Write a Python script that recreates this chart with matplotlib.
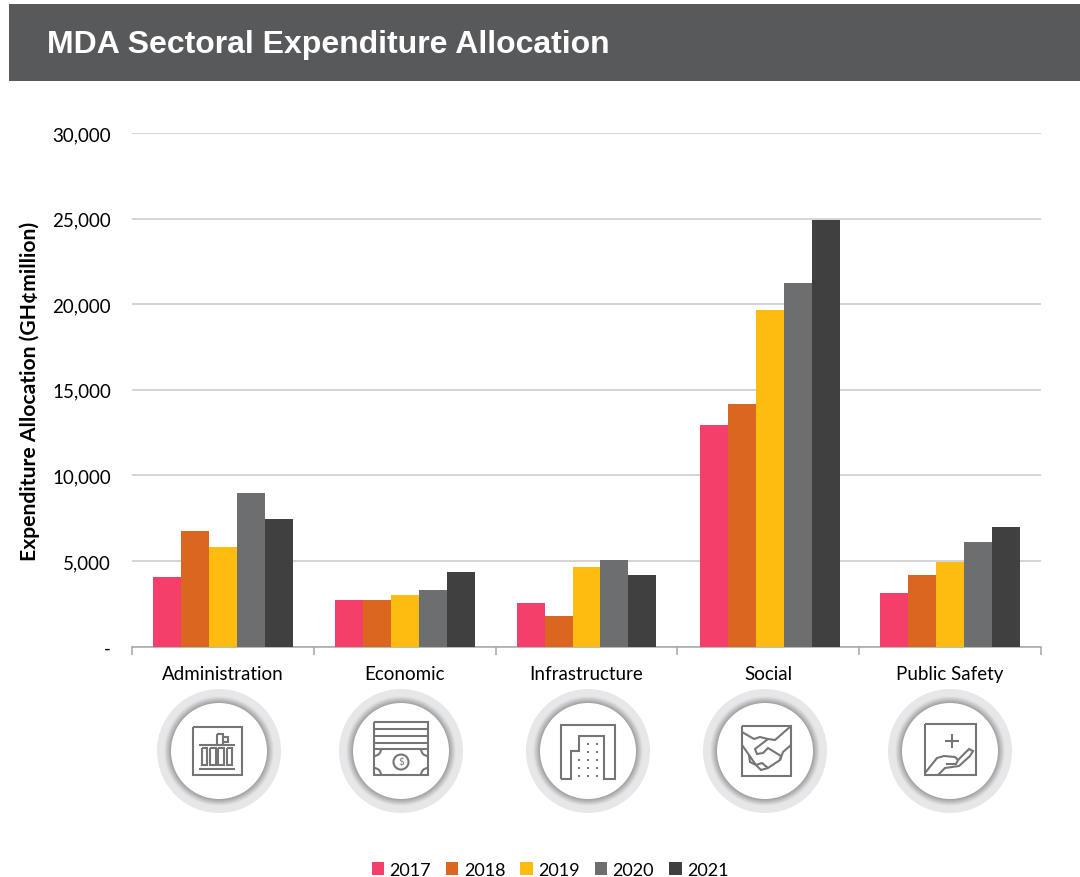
#Numeric Numpy library
import numpy as np
#Library to plot the chart
import matplotlib
matplotlib.use("Agg")
import matplotlib.pyplot as plt
from matplotlib.patches import Circle, Rectangle, Arc

plt.rcParams['font.family'] = ['Lato', 'DejaVu Sans']

#Chart data
categories = ["Administration", "Economic", "Infrastructure", "Social", "Public Safety"]
years = ["2017", "2018", "2019", "2020", "2021"]
values_2017 = [4050, 2700, 2550, 12950, 3150]
values_2018 = [6750, 2700, 1800, 14150, 4200]
values_2019 = [5800, 3000, 4650, 19650, 4950]
values_2020 = [8950, 3300, 5050, 21250, 6100]
values_2021 = [7450, 4350, 4200, 24900, 7000]
yticks = [0, 5000, 10000, 15000, 20000, 25000, 30000]
ytick_labels = ["-", "5,000", "10,000", "15,000", "20,000", "25,000", "30,000"]
title = "MDA Sectoral Expenditure Allocation"
ylabel = "Expenditure Allocation (GH¢million)"

series = [values_2017, values_2018, values_2019, values_2020, values_2021]
colors = ["#F43F6B", "#DB661F", "#FFBC10", "#6D6E70", "#404040"]

W, H = 1080, 878
ICON = "#757575"

fig = plt.figure(figsize=(W / 100, H / 100), dpi=100)

#Axes placed in pixel positions of the picture
ax = fig.add_axes([132 / W, 1 - 647.5 / H, 909 / W, 513.5 / H])
bar_w = 0.154
x = np.arange(len(categories))
#the Social group sits a little right of its label in the original
group_x = x + np.array([0, 0, 0, 0.011, 0])
for i, vals in enumerate(series):
    ax.bar(group_x + (i - 2) * bar_w, vals, bar_w, color=colors[i], label=years[i], zorder=3)

ax.set_xlim(-0.5, 4.5)
ax.set_ylim(0, 30000)
ax.set_yticks(yticks)
ax.set_yticklabels(ytick_labels, fontsize=13.5, color="#000000")
ax.tick_params(axis='y', length=0, pad=15)
ax.yaxis.grid(True, color="#c9c9c9", linewidth=1.1, zorder=0)
ax.set_axisbelow(True)

#Category labels centred, ticks on the category borders
ax.set_xticks(np.arange(-0.5, 5, 1))
ax.set_xticklabels([])
ax.set_xticks(x, minor=True)
ax.set_xticklabels(categories, minor=True, fontsize=13.5, color="#000000")
ax.tick_params(axis='x', which='major', length=6, color="#a6a6a6", width=1.1)
ax.tick_params(axis='x', which='minor', length=0, pad=13)

for s in ['top', 'left', 'right']:
    ax.spines[s].set_visible(False)
ax.spines['bottom'].set_color("#a6a6a6")
ax.spines['bottom'].set_linewidth(1.1)

fig.text(30 / W, 1 - 391 / H, ylabel, rotation=90, ha='center', va='center',
         fontsize=15.2, fontweight='bold', color="#000000")

handles, labels = ax.get_legend_handles_labels()
fig.legend(handles, labels, ncol=5, loc='center', bbox_to_anchor=(550 / W, 1 - 871 / H),
           frameon=False, fontsize=13, handlelength=0.68, handleheight=0.68,
           handletextpad=0.3, columnspacing=0.84, labelcolor="#000000")

#Overlay in pixel coordinates for the header and the icons
ov = fig.add_axes([0, 0, 1, 1], zorder=5)
ov.set_xlim(0, W)
ov.set_ylim(H, 0)
ov.axis('off')
ov.patch.set_alpha(0)

ov.add_patch(Rectangle((9, 5), W - 9, 77, color="#58595B", lw=0))
ov.text(47, 53, title, color="white", fontsize=23, fontweight='bold',
        family='Liberation Sans', va='baseline', ha='left')


def line(cx, cy, pts, lw=1.5, closed=False):
    pts = np.array(pts, dtype=float)
    if closed:
        pts = np.vstack([pts, pts[0]])
    ov.plot(cx + pts[:, 0], cy + pts[:, 1], color=ICON, lw=lw,
            solid_joinstyle='miter', solid_capstyle='butt')


def box(cx, cy, x0, y0, x1, y1, lw=1.5):
    line(cx, cy, [(x0, y0), (x1, y0), (x1, y1), (x0, y1)], lw, closed=True)


#Grey ring with a soft shadow on its inner edge
def ring(cx, cy):
    ov.add_patch(Circle((cx, cy), 62, color="#e6e7e8", lw=0))
    for r, g in zip(np.linspace(55, 48, 8), np.linspace(0.89, 0.60, 8)):
        ov.add_patch(Circle((cx, cy), r, color=(g, g, g + 0.005), lw=0))
    ov.add_patch(Circle((cx, cy), 48, color="white", lw=0))


def icon_admin(cx, cy):
    box(cx, cy, -26, -24, 23, 24)
    line(cx, cy, [(-20, -6), (16, -6)])
    line(cx, cy, [(-20, 18), (16, 18)])
    for a, b in [(-17, -12), (-9, -3), (-1, 5), (8, 13)]:
        box(cx, cy, a, -3, b, 14)
    box(cx, cy, -2, -17, 4, -6)
    box(cx, cy, 4, -14, 9, -9)


def icon_economic(cx, cy):
    box(cx, cy, -27, -29, 27, 24)
    for yy in [-22, -15, -8, -2]:
        line(cx, cy, [(-27, yy), (27, yy)])
    ov.add_patch(Circle((cx, cy + 11), 7.5, fill=False, ec=ICON, lw=1.5))
    ov.text(cx, cy + 11, "$", color=ICON, fontsize=7, ha='center', va='center')
    for px, py, t1 in [(-27, -2, 0), (27, -2, 90), (-27, 24, 270), (27, 24, 180)]:
        ov.add_patch(Arc((cx + px, cy + py), 14, 14, theta1=t1, theta2=t1 + 90,
                         ec=ICON, lw=1.5))


def icon_infra(cx, cy):
    line(cx, cy, [(-27, 28), (-27, -26), (27, -26), (27, 28), (16, 28), (16, -15),
                  (-9, -15), (-9, 0), (-17, 0), (-17, 28)], closed=True)
    for yy, cols in [(-7, [0, 9]), (1, [0, 9]), (9, [-9, 0, 9]), (17, [-9, 0, 9]), (25, [-9, 0, 9])]:
        for xx in cols:
            ov.add_patch(Rectangle((cx + xx - 1, cy + yy - 1), 2.4, 2.4, color=ICON, lw=0))


def icon_social(cx, cy):
    box(cx, cy, -23, -25, 26, 25)
    line(cx, cy, [(-23, -19), (-11, -12), (-5, -14), (3, -12), (10, -11), (26, -25)])
    line(cx, cy, [(-23, -6), (-16, 4), (-9, 14), (-4, 19), (3, 17), (15, 9), (18, 1), (26, -6)])
    line(cx, cy, [(3, -12), (-10, -2), (-8, 3), (-2, 2), (3, -3), (16, 5), (15, 9)])
    line(cx, cy, [(-16, 4), (-15, 11), (-9, 14)])
    line(cx, cy, [(-9, 14), (-3, 12), (3, 17)])


def icon_safety(cx, cy):
    box(cx, cy, -25, -27, 26, 24)
    line(cx, cy, [(2, -17), (2, -3)])
    line(cx, cy, [(-5, -10), (9, -10)])
    line(cx, cy, [(-25, 22), (-13, 7), (-6, 5), (5, 6), (8, 9), (6, 13), (-4, 13)])
    line(cx, cy, [(8, 9), (19, -2), (23, 0), (20, 5), (9, 15), (-5, 17), (-12, 24)])


centers = [(219, 752), (401, 752), (588, 752), (765, 752), (950, 752)]
icons = [icon_admin, icon_economic, icon_infra, icon_social, icon_safety]
for (cx, cy), draw in zip(centers, icons):
    ring(cx, cy)
    draw(cx, cy)

fig.savefig("out.png", dpi=100)
